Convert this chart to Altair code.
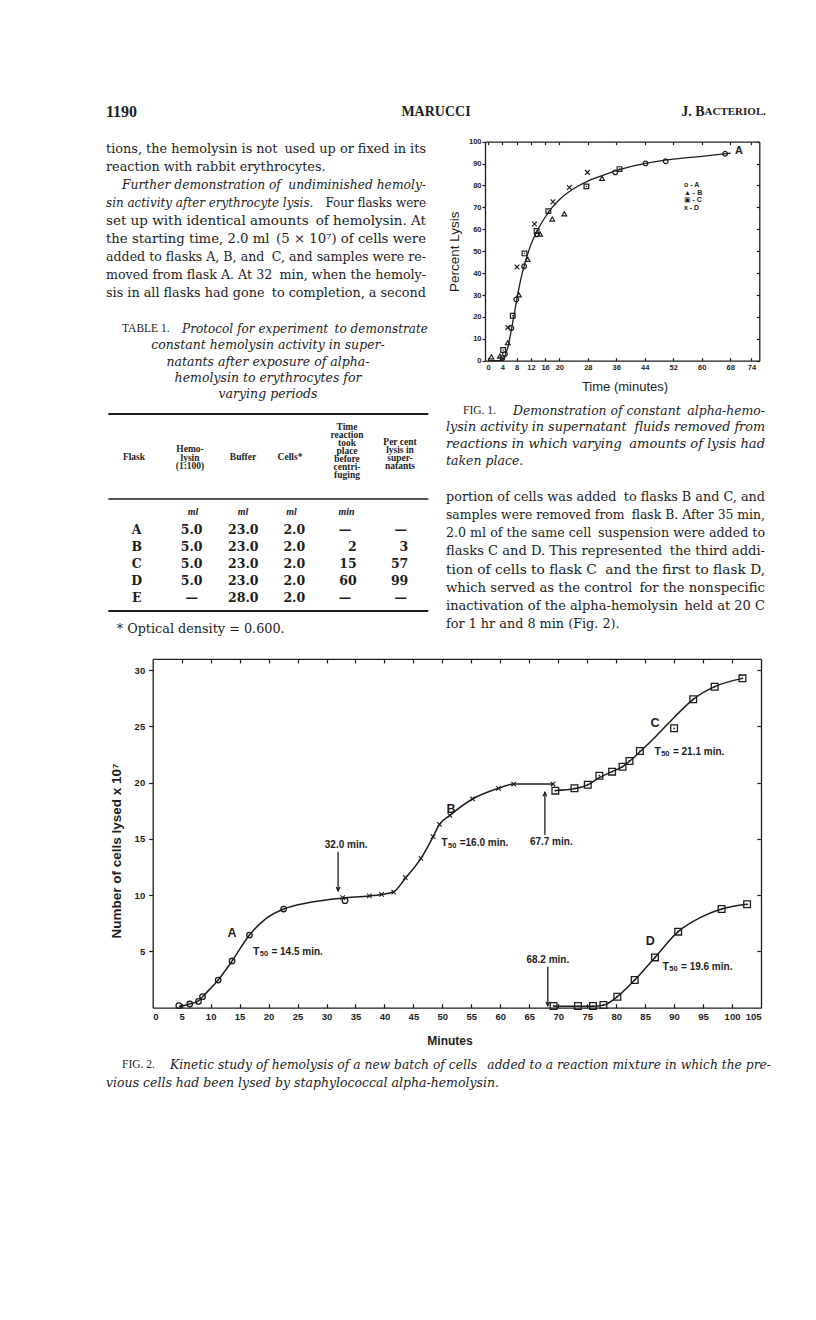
import altair as alt
import pandas as pd

# ---------------- Fig. 1 data: percent lysis vs time (min) ----------------
f1_a_t = [4.0, 4.7, 6.5, 7.9, 10.1, 13.7, 35.7, 44.2, 49.9, 66.6]
f1_a_v = [1.2, 3.0, 14.9, 28.0, 43.1, 57.7, 86.0, 90.1, 91.1, 94.5]
f1_b_t = [0.9, 3.3, 5.5, 8.6, 11.1, 14.6, 18.0, 21.4, 32.0]
f1_b_v = [1.8, 2.1, 8.2, 30.1, 46.3, 57.8, 64.7, 67.1, 83.3]
f1_c_t = [4.2, 6.9, 10.2, 13.6, 16.9, 27.6, 36.9]
f1_c_v = [4.9, 20.5, 49.0, 59.2, 68.3, 79.6, 87.5]
f1_d_t = [5.5, 8.1, 13.0, 18.2, 22.8, 27.9]
f1_d_v = [15.2, 42.8, 62.4, 72.6, 79.1, 86.0]
f1_curve_t = [0, 3.5, 4.5, 5.5, 6.5, 7.5, 8.5, 9.5, 10.5, 12, 14, 16, 18, 20, 24, 28, 32, 36, 40, 44, 52, 60, 68.2]
f1_curve_v = [0, 0, 1.5, 6, 14, 23, 32, 39.5, 45.5, 53, 60, 65.5, 70, 73.5, 78.5, 82, 84.5, 86.8, 88.6, 90, 92, 93.3, 94.8]
f1_xticks = [0, 4, 8, 12, 16, 20, 28, 36, 44, 52, 60, 68, 74]
f1_yticks = [0, 10, 20, 30, 40, 50, 60, 70, 80, 90, 100]
f1_legend = ["o - A", "▲ - B", "▣ - C", "x - D"]

# ---------------- Fig. 2 data: cells lysed (x 10^7) vs minutes ----------------
f2_a_t = [4.5, 6.4, 7.9, 8.6, 11.3, 13.7, 16.7, 22.6, 33.2]
f2_a_v = [0.18, 0.33, 0.56, 0.98, 2.46, 4.15, 6.46, 8.77, 9.51]
f2_b_t = [32.8, 37.4, 39.5, 41.6, 43.6, 46.3, 48.4, 49.5, 51.3, 55.2, 59.7, 62.3, 69.1]
f2_b_v = [9.78, 9.93, 10.07, 10.28, 11.56, 13.27, 15.2, 16.3, 17.1, 18.55, 19.5, 19.88, 19.88]
f2_c_t = [69.5, 72.8, 75.1, 77.1, 79.3, 81.1, 82.3, 84.1, 90.0, 93.3, 97.0, 101.8]
f2_c_v = [19.29, 19.5, 19.82, 20.62, 20.98, 21.42, 21.93, 22.81, 24.83, 27.41, 28.53, 29.27]
f2_d_t = [69.2, 73.4, 76.0, 77.8, 80.2, 83.2, 86.7, 90.7, 98.2, 102.6]
f2_d_v = [0.15, 0.15, 0.15, 0.24, 0.98, 2.46, 4.47, 6.76, 8.77, 9.19]
# smooth curves drawn through the points
f2_ab_curve_t = [4.5, 6.4, 7.9, 8.6, 11.3, 13.7, 16.7, 19.5, 22.6, 27.0, 32.8, 37.4, 39.5, 41.6, 43.6,
                 46.3, 48.4, 49.5, 51.3, 55.2, 59.7, 62.3, 69.1]
f2_ab_curve_v = [0.1, 0.33, 0.6, 0.98, 2.46, 4.15, 6.46, 7.9, 8.77, 9.35, 9.75, 9.93, 10.07, 10.3, 11.5,
                 13.27, 15.2, 16.3, 17.1, 18.55, 19.5, 19.88, 19.88]
f2_c_curve_t = [69.5, 72.8, 75.1, 77.1, 79.3, 81.1, 82.3, 84.1, 87.0, 90.0, 93.3, 97.0, 101.8]
f2_c_curve_v = [19.3, 19.45, 19.8, 20.45, 20.98, 21.42, 21.9, 22.75, 24.2, 25.8, 27.41, 28.53, 29.27]
f2_d_curve_t = [69.2, 73.4, 76.0, 77.8, 80.2, 83.2, 86.7, 90.7, 94.5, 98.2, 102.6]
f2_d_curve_v = [0.12, 0.12, 0.12, 0.22, 0.98, 2.46, 4.47, 6.76, 8.0, 8.77, 9.19]
f2_xticks = list(range(0, 106, 5))
f2_yticks = [5, 10, 15, 20, 25, 30]
# annotations (data coordinates)
f2_letter = ["A", "B", "C", "D"]
f2_letter_t = [13.7, 51.5, 86.7, 85.9]
f2_letter_v = [6.6, 17.7, 25.3, 5.96]
f2_t50_value = ["= 14.5 min.", "=16.0 min.", "= 21.1 min.", "= 19.6 min."]
f2_t50_t = [17.3, 49.8, 86.6, 88.0]
f2_t50_v = [4.98, 14.6, 22.75, 3.64]
f2_time_lbl = ["32.0 min.", "67.7 min.", "68.2 min."]
f2_time_lbl_t = [33.4, 68.8, 68.2]
f2_time_lbl_v = [14.46, 14.75, 4.24]
f2_arrow_t = [32.0, 67.7, 68.2]
f2_arrow_from = [13.87, 15.35, 3.64]
f2_arrow_to = [10.37, 19.15, 0.18]

# ---------------- Table 1 ----------------
tbl_flask = ["A", "B", "C", "D", "E"]
tbl_hemolysin = ["5.0", "5.0", "5.0", "5.0", "—"]
tbl_buffer = ["23.0", "23.0", "23.0", "23.0", "28.0"]
tbl_cells = ["2.0", "2.0", "2.0", "2.0", "2.0"]
tbl_time = ["—", "2", "15", "60", "—"]
tbl_pct = ["—", "3", "57", "99", "—"]

# ---------------- page text ----------------
left_col = [
    "tions, the hemolysin is not used up or fixed in its",
    "reaction with rabbit erythrocytes.",
]
left_ital = "Further demonstration of undiminished hemoly-"
left_mixed = ("sin activity after erythrocyte lysis.", "Four flasks were")
left_col2 = [
    "set up with identical amounts of hemolysin. At",
    "the starting time, 2.0 ml (5 × 10⁷) of cells were",
    "added to flasks A, B, and C, and samples were re-",
    "moved from flask A. At 32 min, when the hemoly-",
    "sis in all flasks had gone to completion, a second",
]
table_caption = ["Protocol for experiment to demonstrate",
                 "constant hemolysin activity in super-",
                 "natants after exposure of alpha-",
                 "hemolysin to erythrocytes for",
                 "varying periods"]
fig1_caption = ["Demonstration of constant alpha-hemo-",
                "lysin activity in supernatant fluids removed from",
                "reactions in which varying amounts of lysis had",
                "taken place."]
right_col = [
    "portion of cells was added to flasks B and C, and",
    "samples were removed from flask B. After 35 min,",
    "2.0 ml of the same cell suspension were added to",
    "flasks C and D. This represented the third addi-",
    "tion of cells to flask C and the first to flask D,",
    "which served as the control for the nonspecific",
    "inactivation of the alpha-hemolysin held at 20 C",
    "for 1 hr and 8 min (Fig. 2).",
]
fig2_caption = ["Kinetic study of hemolysis of a new batch of cells added to a reaction mixture in which the pre-",
                "vious cells had been lysed by staphylococcal alpha-hemolysin."]

# ---------------- layout / style ----------------
W, H, OFF = 800, 1304, 8
INK = "#1d1d1d"
SERIF = "Liberation Serif"
BOOK = "DejaVu Serif"
SANS = "Liberation Sans, DejaVu Sans"

STYLE = {
    "head": dict(font=SERIF, fontWeight="bold"),
    "body": dict(font=BOOK),
    "body_it": dict(font=BOOK, fontStyle="italic"),
    "sc": dict(font=SERIF),
    "th": dict(font=SERIF, fontWeight="bold"),
    "tunit": dict(font=SERIF, fontStyle="italic", fontWeight="bold"),
    "td": dict(font=BOOK, fontWeight="bold"),
    "f1_title": dict(font=SANS),
    "f1_title_rot": dict(font=SANS, angle=270),
    "f2_title": dict(font=SANS, fontWeight="bold"),
    "f2_title_rot": dict(font=SANS, fontWeight="bold", angle=270),
    "legend": dict(font=SANS, fontWeight="bold"),
}
BODY_FS = 12.8
CAP_FS = 12.5
ITALIC_FACTOR = 0.995

# approximate advance widths (per 1000 em) of the book face, used to fit justified lines
_CW = dict(zip("abcdefghijklmnopqrstuvwxyz",
               [596, 640, 560, 640, 592, 370, 640, 644, 320, 316, 618, 320, 948, 644, 602, 640, 640,
                478, 513, 402, 644, 565, 856, 564, 565, 523]))
_CW.update(dict(zip("ABCDEFGHIJKLMNOPQRSTUVWXYZ",
                    [722, 735, 765, 802, 730, 694, 799, 872, 395, 401, 747, 664, 1024, 875, 820, 673, 820,
                     753, 685, 667, 843, 722, 1028, 712, 660, 695])))
_CW.update({c: 636 for c in "0123456789"})
_CW.update({" ": 318, ".": 318, ",": 318, "-": 338, "(": 390, ")": 390, ":": 337, "*": 500,
            "=": 838, "×": 838, "—": 1000, "⁷": 401})


def em_width(s):
    return sum(_CW.get(c, 600) for c in s) / 1000.0


pieces = []


def add(text, x, y, style, fs, align="left"):
    pieces.append(dict(t=text, x=x - OFF, y=y - OFF, fs=fs, style=style, align=align))


def fit_size(text, width, base, italic):
    est = em_width(text) * (ITALIC_FACTOR if italic else 1.0)
    fs = width * (0.985 if italic else 0.993) / est
    return max(base * 0.88, min(base * 1.08, fs))


def justify(line, x0, x1, y, style, base):
    italic = style.endswith("_it")
    fs = fit_size(line, x1 - x0, base, italic)
    words = line.split(" ")
    half = len(line) / 2
    n, k = 0, 1
    for i, w in enumerate(words[:-1]):
        n += len(w) + 1
        if n >= half:
            k = i + 1
            break
    add(" ".join(words[:k]), x0, y, style, fs, "left")
    add(" ".join(words[k:]), x1, y, style, fs, "right")


# header
add("1190", 106, 111.7, "head", 16)
add("MARUCCI", 436, 111.7, "head", 14, "center")
add("ACTERIOL.", 766, 112.4, "head", 11, "right")
add("J. B", 704.5, 111.7, "head", 14, "right")

# left column paragraphs
LX0, LX1, LY0, LH = 106, 426, 149, 18
justify(left_col[0], LX0, LX1, LY0, "body", BODY_FS)
add(left_col[1], LX0, LY0 + LH, "body", BODY_FS)
justify(left_ital, LX0 + 16, LX1, LY0 + 2 * LH, "body_it", BODY_FS)
mixed_fs = max(BODY_FS * 0.88, min(BODY_FS * 1.08, (LX1 - LX0) * 0.975 /
               (em_width(left_mixed[0]) * ITALIC_FACTOR + em_width(" " + left_mixed[1]))))
add(left_mixed[0], LX0, LY0 + 3 * LH, "body_it", mixed_fs)
add(left_mixed[1], LX1, LY0 + 3 * LH, "body", mixed_fs, "right")
for i, line in enumerate(left_col2):
    justify(line, LX0, LX1, LY0 + (4 + i) * LH, "body", BODY_FS)

# table caption
TC_Y0, TC_LH = 329, 16.3
add("TABLE 1.", 122, TC_Y0, "sc", 11.5)
justify(table_caption[0], 182, 428, TC_Y0, "body_it", CAP_FS)
for i, line in enumerate(table_caption[1:]):
    add(line, 268, TC_Y0 + (i + 1) * TC_LH, "body_it", CAP_FS, "center")

# table header
add("Flask", 134, 456.7, "th", 9.5, "center")
for i, s in enumerate(["Hemo-", "lysin", "(1:100)"]):
    add(s, 190, 449.3 + 8.4 * i, "th", 9.5, "center")
add("Buffer", 243, 456.7, "th", 9.5, "center")
add("Cells*", 290, 456.7, "th", 9.5, "center")
for i, s in enumerate(["Time", "reaction", "took", "place", "before", "centri-", "fuging"]):
    add(s, 347, 427 + 8 * i, "th", 9.5, "center")
for i, s in enumerate(["Per cent", "lysis in", "super-", "natants"]):
    add(s, 400, 441.7 + 8 * i, "th", 9.5, "center")
for s, x in [("ml", 193), ("ml", 243), ("ml", 291.5), ("min", 346.5)]:
    add(s, x, 512.3, "tunit", 10, "center")
ROW_Y = [530, 547, 564, 581, 598]
for i in range(5):
    y = ROW_Y[i]
    add(tbl_flask[i], 136.7, y, "td", 12.5, "center")
    add(tbl_hemolysin[i], 191.7, y, "td", 12.5, "center")
    add(tbl_buffer[i], 243.3, y, "td", 12.5, "center")
    add(tbl_cells[i], 294.3, y, "td", 12.5, "center")
    if tbl_time[i] == "—":
        add(tbl_time[i], 345, y, "td", 12.5, "center")
    else:
        add(tbl_time[i], 356.7, y, "td", 12.5, "right")
    if tbl_pct[i] == "—":
        add(tbl_pct[i], 400.7, y, "td", 12.5, "center")
    else:
        add(tbl_pct[i], 408.3, y, "td", 12.5, "right")
add("* Optical density = 0.600.", 116.7, 629, "body", BODY_FS)

# fig 1 caption and right column text
RX0, RX1 = 446, 765
add("FIG. 1.", 463, 410.7, "sc", 11.5)
justify(fig1_caption[0], 513, RX1, 410.7, "body_it", CAP_FS)
justify(fig1_caption[1], RX0, RX1, 410.7 + 16.7, "body_it", CAP_FS)
justify(fig1_caption[2], RX0, RX1, 410.7 + 2 * 16.7, "body_it", CAP_FS)
add(fig1_caption[3], RX0, 410.7 + 3 * 16.7, "body_it", CAP_FS)
for i, line in enumerate(right_col):
    y = 496.7 + 18.2 * i
    if i == len(right_col) - 1:
        add(line, RX0, y, "body", BODY_FS)
    else:
        justify(line, RX0, RX1, y, "body", BODY_FS)

# fig 2 caption
add("FIG. 2.", 122, 1065, "sc", 11.5)
justify(fig2_caption[0], 170, 771, 1065, "body_it", CAP_FS)
add(fig2_caption[1], 106, 1082.5, "body_it", CAP_FS)

# figure axis titles and legend
add("Percent Lysis", 455, 251.7, "f1_title_rot", 13.5, "center")
add("Time (minutes)", 625, 386.7, "f1_title", 13, "center")
for i, s in enumerate(f1_legend):
    add(s, 684, 185 + 7.7 * i, "legend", 7)
add("Number of cells lysed x 10⁷", 116.7, 851, "f2_title_rot", 13.5, "center")
add("Minutes", 450, 1040.7, "f2_title", 12, "center")

layers = []
pdf = pd.DataFrame(pieces)
for (style, align), grp in pdf.groupby(["style", "align"], sort=False):
    layers.append(
        alt.Chart(grp[["t", "x", "y", "fs"]].reset_index(drop=True))
        .mark_text(align=align, baseline="middle", color=INK, **STYLE[style])
        .encode(x=alt.X("x:Q", scale=None, axis=None),
                y=alt.Y("y:Q", scale=None, axis=None),
                size=alt.Size("fs:Q", scale=None, legend=None),
                text="t:N")
    )

# table rules
rules_thick = pd.DataFrame({"x": [108.3 - OFF] * 2, "x2": [428.3 - OFF] * 2, "y": [414 - OFF, 611 - OFF]})
rules_thin = pd.DataFrame({"x": [108.3 - OFF], "x2": [428.3 - OFF], "y": [499 - OFF]})
for df, sw in [(rules_thick, 2), (rules_thin, 1.3)]:
    layers.append(alt.Chart(df).mark_rule(color=INK, strokeWidth=sw).encode(
        x=alt.X("x:Q", scale=None, axis=None), x2="x2:Q", y=alt.Y("y:Q", scale=None, axis=None)))


def ax(orient, offset, values, labels=True, ticks=True, domain=True, size=3, fs=8, pad=2):
    kw = dict(orient=orient, offset=offset, values=values, labels=labels, ticks=ticks,
              domain=domain, grid=False, title=None)
    if ticks:
        kw["tickSize"] = size
    if labels:
        kw.update(labelFontSize=fs, labelPadding=pad)
    return alt.Axis(**kw)


# ---------------- Fig. 1 ----------------
F1L, F1R, F1T, F1B = 485 - OFF, 759.3 - OFF, 141.7 - OFF, 360.7 - OFF
X1 = alt.Scale(domain=[-0.9, 76.2], range=[F1L, F1R], nice=False, zero=False)
Y1 = alt.Scale(domain=[0, 100], range=[F1B, F1T], nice=False, zero=False)
f1_curve = pd.DataFrame({"t": f1_curve_t, "v": f1_curve_v})

layers.append(alt.Chart(f1_curve).mark_line(color=INK, strokeWidth=1.3, interpolate="monotone").encode(
    x=alt.X("t:Q", scale=X1, axis=ax("bottom", -(H - F1B), f1_xticks, ticks=False, fs=7.5, pad=3)),
    y=alt.Y("v:Q", scale=Y1, axis=ax("left", -F1L, f1_yticks, size=3, fs=7.5, pad=1))))
layers.append(alt.Chart(f1_curve).mark_point(opacity=0).encode(
    x=alt.X("t:Q", scale=X1, axis=ax("top", -F1B, f1_xticks, labels=False, domain=False, size=3)),
    y=alt.Y("v:Q", scale=Y1, axis=ax("left", -F1R, f1_yticks, labels=False, size=3))))
layers.append(alt.Chart(f1_curve).mark_point(opacity=0).encode(
    x=alt.X("t:Q", scale=X1, axis=ax("bottom", -(H - F1T), f1_xticks, labels=False, size=3)),
    y=alt.Y("v:Q", scale=Y1, axis=None)))

XSHAPE = "M-1,-1L1,1M-1,1L1,-1"
f1_sets = [
    (f1_a_t, f1_a_v, "circle", 22),
    (f1_b_t, f1_b_v, "triangle-up", 22),
    (f1_c_t, f1_c_v, "square", 22),
    (f1_d_t, f1_d_v, XSHAPE, 22),
]
for tt, vv, shape, size in f1_sets:
    layers.append(alt.Chart(pd.DataFrame({"t": tt, "v": vv})).mark_point(
        shape=shape, size=size, filled=False, color=INK, strokeWidth=1.2, opacity=1).encode(
        x=alt.X("t:Q", scale=X1, axis=None), y=alt.Y("v:Q", scale=Y1, axis=None)))
layers.append(alt.Chart(pd.DataFrame({"t": f1_c_t, "v": f1_c_v})).mark_circle(
    size=2, color=INK, opacity=1).encode(
    x=alt.X("t:Q", scale=X1, axis=None), y=alt.Y("v:Q", scale=Y1, axis=None)))
layers.append(alt.Chart(pd.DataFrame({"t": [70.5], "v": [95.9], "s": ["A"]})).mark_text(
    font=SANS, fontSize=11, fontWeight="bold", color=INK).encode(
    x=alt.X("t:Q", scale=X1, axis=None), y=alt.Y("v:Q", scale=Y1, axis=None), text="s:N"))

# ---------------- Fig. 2 ----------------
F2L, F2R, F2T, F2B = 152.7 - OFF, 761 - OFF, 658.9 - OFF, 1007.7 - OFF
X2 = alt.Scale(domain=[0, 105], range=[F2L, F2R], nice=False, zero=False)
Y2 = alt.Scale(domain=[0, 31], range=[F2B, F2T], nice=False, zero=False)

curves = pd.concat([
    pd.DataFrame({"t": f2_ab_curve_t, "v": f2_ab_curve_v, "s": "AB"}),
    pd.DataFrame({"t": f2_c_curve_t, "v": f2_c_curve_v, "s": "C"}),
    pd.DataFrame({"t": f2_d_curve_t, "v": f2_d_curve_v, "s": "D"}),
], ignore_index=True)
layers.append(alt.Chart(curves).mark_line(color=INK, strokeWidth=1.5, interpolate="monotone").encode(
    x=alt.X("t:Q", scale=X2, axis=ax("bottom", -(H - F2B), f2_xticks, ticks=False, fs=9.5, pad=4)),
    y=alt.Y("v:Q", scale=Y2, axis=ax("left", -F2L, f2_yticks, size=4, fs=9.5, pad=4)),
    detail="s:N"))
layers.append(alt.Chart(curves).mark_point(opacity=0).encode(
    x=alt.X("t:Q", scale=X2, axis=ax("top", -F2B, f2_xticks[1:-1], labels=False, domain=False, size=4)),
    y=alt.Y("v:Q", scale=Y2, axis=ax("left", -F2R, f2_yticks, labels=False, size=4))))
layers.append(alt.Chart(curves).mark_point(opacity=0).encode(
    x=alt.X("t:Q", scale=X2, axis=ax("bottom", -(H - F2T), f2_xticks[1:-1], labels=False, size=4)),
    y=alt.Y("v:Q", scale=Y2, axis=None)))

sq = pd.DataFrame({"t": f2_c_t + f2_d_t, "v": f2_c_v + f2_d_v})
f2_sets = [
    (pd.DataFrame({"t": f2_a_t, "v": f2_a_v}), "circle", 30, 1.3),
    (pd.DataFrame({"t": f2_b_t, "v": f2_b_v}), XSHAPE, 20, 1.1),
    (sq, "square", 45, 1.3),
]
for df, shape, size, sw in f2_sets:
    layers.append(alt.Chart(df).mark_point(
        shape=shape, size=size, filled=False, color=INK, strokeWidth=sw, opacity=1).encode(
        x=alt.X("t:Q", scale=X2, axis=None), y=alt.Y("v:Q", scale=Y2, axis=None)))
layers.append(alt.Chart(sq).mark_circle(size=3, color=INK, opacity=1).encode(
    x=alt.X("t:Q", scale=X2, axis=None), y=alt.Y("v:Q", scale=Y2, axis=None)))

# arrows
arrows = pd.DataFrame({"t": f2_arrow_t, "a": f2_arrow_from, "b": f2_arrow_to})
layers.append(alt.Chart(arrows).mark_rule(color=INK, strokeWidth=1.3).encode(
    x=alt.X("t:Q", scale=X2, axis=None), y=alt.Y("a:Q", scale=Y2, axis=None), y2="b:Q"))
heads = pd.DataFrame({"t": f2_arrow_t, "v": f2_arrow_to,
                      "dir": ["down" if b < a else "up" for a, b in zip(f2_arrow_from, f2_arrow_to)]})
for d, path in [("down", "M-0.9,-2L0,0L0.9,-2"), ("up", "M-0.9,2L0,0L0.9,2")]:
    layers.append(alt.Chart(heads[heads["dir"] == d]).mark_point(
        shape=path, size=16, filled=False, color=INK, strokeWidth=1.3, opacity=1).encode(
        x=alt.X("t:Q", scale=X2, axis=None), y=alt.Y("v:Q", scale=Y2, axis=None)))

# annotation texts
layers.append(alt.Chart(pd.DataFrame({"t": f2_letter_t, "v": f2_letter_v, "s": f2_letter})).mark_text(
    font=SANS, fontSize=12.5, fontWeight="bold", color=INK).encode(
    x=alt.X("t:Q", scale=X2, axis=None), y=alt.Y("v:Q", scale=Y2, axis=None), text="s:N"))
t50 = pd.DataFrame({"t": f2_t50_t, "v": f2_t50_v, "s": f2_t50_value})
for txt, dx, dy, fs in [("T", 0, 0, 10.5), ("50", 6.8, 2.5, 7.5)]:
    layers.append(alt.Chart(t50).mark_text(
        font=SANS, fontSize=fs, fontWeight="bold", color=INK, align="left", dx=dx, dy=dy, text=txt).encode(
        x=alt.X("t:Q", scale=X2, axis=None), y=alt.Y("v:Q", scale=Y2, axis=None)))
layers.append(alt.Chart(t50).mark_text(
    font=SANS, fontSize=10, fontWeight="bold", color=INK, align="left", dx=18.5).encode(
    x=alt.X("t:Q", scale=X2, axis=None), y=alt.Y("v:Q", scale=Y2, axis=None), text="s:N"))
layers.append(alt.Chart(pd.DataFrame({"t": f2_time_lbl_t, "v": f2_time_lbl_v, "s": f2_time_lbl})).mark_text(
    font=SANS, fontSize=10, fontWeight="bold", color=INK, align="center").encode(
    x=alt.X("t:Q", scale=X2, axis=None), y=alt.Y("v:Q", scale=Y2, axis=None), text="s:N"))

chart = alt.layer(*layers).resolve_scale(
    x="independent", y="independent"
).properties(
    width=W, height=H, padding=0, background="white",
    autosize=alt.AutoSizeParams(type="none"),
).configure_view(stroke=None).configure_axis(
    labelFont=SANS, labelFontWeight="bold", labelColor=INK,
    domainColor=INK, tickColor=INK, domainWidth=1.3, tickWidth=1.2,
)

chart.save("out.html", embed_options={"renderer": "svg", "actions": False})
